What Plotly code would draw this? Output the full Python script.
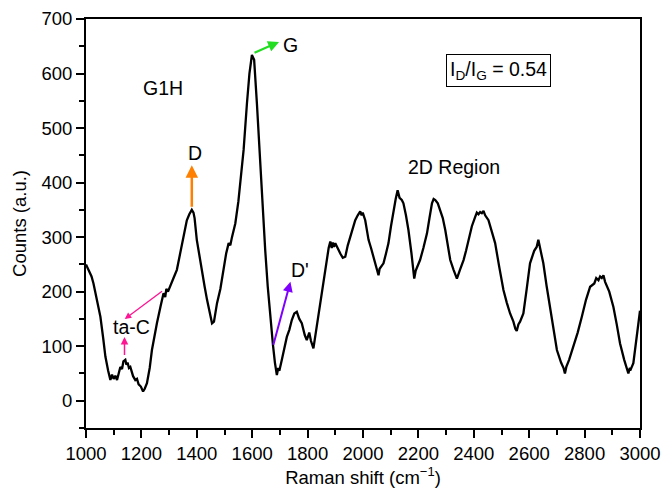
import plotly.graph_objects as go

raman_shift = [1000, 1010, 1020, 1027, 1040, 1052, 1062, 1070, 1080, 1088, 1094, 1100, 1106, 1112, 1118, 1124, 1130,
               1135, 1142, 1146, 1150, 1155, 1160, 1166, 1170, 1178, 1184, 1190, 1198, 1206, 1212, 1220, 1230, 1238,
               1247, 1256, 1270, 1280, 1286, 1290, 1296, 1304, 1310, 1316, 1328, 1337, 1346, 1355, 1364, 1373, 1382,
               1388, 1392, 1400, 1410, 1419, 1428, 1437, 1446, 1455, 1462, 1473, 1485, 1497, 1506, 1515, 1521, 1527,
               1539, 1550, 1557, 1563, 1569, 1581, 1590, 1599, 1603, 1607, 1617, 1629, 1638, 1647, 1656, 1665, 1675,
               1682, 1689, 1694, 1698, 1707, 1716, 1725, 1734, 1743, 1752, 1761, 1770, 1779, 1790, 1797, 1806, 1812,
               1821, 1828, 1834, 1843, 1852, 1861, 1870, 1876, 1882, 1887, 1891, 1895, 1900, 1909, 1918, 1927, 1936,
               1945, 1954, 1963, 1972, 1981, 1990, 1995, 1999, 2008, 2014, 2020, 2029, 2038, 2047, 2056, 2060, 2065,
               2074, 2083, 2092, 2101, 2110, 2118, 2125, 2132, 2140, 2146, 2155, 2164, 2175, 2185, 2190, 2195, 2206,
               2218, 2231, 2240, 2249, 2255, 2261, 2270, 2279, 2288, 2297, 2306, 2315, 2327, 2333, 2339, 2350, 2363,
               2372, 2381, 2393, 2405, 2411, 2417, 2423, 2429, 2435, 2441, 2453, 2465, 2477, 2492, 2507, 2519, 2531,
               2543, 2550, 2555, 2561, 2567, 2579, 2591, 2603, 2618, 2627, 2633, 2637, 2642, 2651, 2663, 2675, 2688,
               2700, 2715, 2724, 2729, 2734, 2744, 2759, 2775, 2790, 2805, 2820, 2828, 2835, 2842, 2850, 2856, 2862,
               2868, 2874, 2889, 2904, 2916, 2928, 2943, 2952, 2958, 2963, 2967, 2976, 2985, 2994, 3000]

counts = [250, 240, 228, 215, 185, 154, 115, 81, 55, 38, 48, 40, 46, 38, 50, 62, 58,
          72, 75, 66, 70, 60, 62, 50, 45, 38, 40, 30, 26, 17, 22, 32, 60, 93,
          120, 142, 175, 197, 190, 205, 200, 209, 216, 225, 240, 262, 282, 305, 331, 342, 350,
          345, 335, 295, 262, 234, 210, 185, 160, 142, 145, 179, 205, 246, 270, 289, 285, 300,
          325, 365, 399, 429, 460, 545, 600, 634, 630, 625, 545, 429, 350, 276, 210, 154, 102,
          70, 47, 60, 55, 75, 95, 117, 130, 148, 160, 163, 150, 142, 120, 111, 125, 110,
          96, 120, 136, 170, 203, 230, 258, 280, 292, 280, 290, 282, 289, 278, 270, 262, 264,
          285, 301, 315, 331, 340, 347, 340, 345, 331, 310, 295, 280, 264, 250, 230, 242, 245,
          252, 270, 289, 320, 350, 370, 386, 372, 368, 362, 340, 313, 270, 224, 238, 245, 258,
          280, 307, 335, 362, 370, 368, 362, 350, 335, 313, 285, 258, 240, 232, 224, 240, 258,
          275, 295, 320, 337, 345, 342, 346, 344, 348, 340, 331, 310, 289, 245, 203, 180, 160,
          145, 132, 128, 140, 145, 160, 205, 252, 275, 282, 295, 285, 270, 252, 210, 172, 130,
          93, 70, 60, 50, 62, 75, 99, 125, 154, 185, 209, 212, 215, 225, 221, 228, 225,
          230, 218, 200, 172, 140, 105, 75, 60, 50, 60, 58, 69, 105, 142, 165]

fig = go.Figure()
fig.add_trace(go.Scatter(x=raman_shift, y=counts, mode="lines",
                         line=dict(color="black", width=2.3), showlegend=False))

font = "Liberation Sans, Arial, Helvetica, sans-serif"
afs = 19.5

annotations = [
    dict(x=1279, y=573, text="G1H", showarrow=False, font=dict(size=afs)),
    dict(x=1394, y=455, text="D", showarrow=False, font=dict(size=afs)),
    dict(x=1740, y=653, text="G", showarrow=False, font=dict(size=afs)),
    dict(x=1773, y=240, text="D'", showarrow=False, font=dict(size=afs)),
    dict(x=1166, y=136, text="ta-C", showarrow=False, font=dict(size=afs)),
    dict(x=2327, y=429, text="2D Region", showarrow=False, font=dict(size=afs)),
    dict(x=2490, y=605, text="I<sub>D</sub>/I<sub>G</sub> = 0.54", showarrow=False,
         font=dict(size=afs), bordercolor="black", borderwidth=1, borderpad=3, bgcolor="white"),
    # arrows
    dict(x=1382, y=432, ax=1382, ay=353, xref="x", yref="y", axref="x", ayref="y", text="",
         showarrow=True, arrowhead=2, arrowsize=1, arrowwidth=2.5, arrowcolor="#FF8000"),
    dict(x=1697, y=658, ax=1603, ay=637, xref="x", yref="y", axref="x", ayref="y", text="",
         showarrow=True, arrowhead=2, arrowsize=1, arrowwidth=2.2, arrowcolor="#22DD22"),
    dict(x=1738, y=218, ax=1675, ay=100, xref="x", yref="y", axref="x", ayref="y", text="",
         showarrow=True, arrowhead=2, arrowsize=1, arrowwidth=2, arrowcolor="#8000FF"),
    dict(x=1139, y=117, ax=1139, ay=81, xref="x", yref="y", axref="x", ayref="y", text="",
         showarrow=True, arrowhead=2, arrowsize=1, arrowwidth=1.5, arrowcolor="#FF1493"),
    dict(x=1140, y=150, ax=1280, ay=203, xref="x", yref="y", axref="x", ayref="y", text="",
         showarrow=True, arrowhead=2, arrowsize=1, arrowwidth=1.3, arrowcolor="#FF1493"),
]

fig.update_layout(
    width=661, height=491,
    margin=dict(l=86, r=21, t=19, b=63, autoexpand=False),
    paper_bgcolor="white", plot_bgcolor="white",
    font=dict(family=font, size=18.5, color="black"),
    annotations=annotations,
)
fig.update_xaxes(range=[1000, 3000], tickmode="array", tickvals=list(range(1000, 3001, 200)),
                 ticks="outside", ticklen=8, tickwidth=1.5, tickcolor="black",
                 minor=dict(tickvals=list(range(1100, 3000, 200)), ticks="outside", ticklen=5,
                            tickwidth=1.5, tickcolor="black"),
                 showline=True, linewidth=2, linecolor="black", mirror=True, showgrid=False, zeroline=False,
                 automargin=False,
                 title=dict(text="Raman shift (cm<sup>−1</sup>)", font=dict(size=18.5), standoff=4),
                 tickfont=dict(size=18.5))
fig.update_yaxes(range=[-50, 700], tickmode="array", tickvals=list(range(0, 701, 100)),
                 ticks="outside", ticklen=8, tickwidth=1.5, tickcolor="black",
                 minor=dict(tickvals=list(range(-50, 700, 100)), ticks="outside", ticklen=5,
                            tickwidth=1.5, tickcolor="black"),
                 showline=True, linewidth=2, linecolor="black", mirror=True, showgrid=False, zeroline=False,
                 automargin=False,
                 title=dict(text="Counts (a.u.)", font=dict(size=18.5), standoff=10),
                 tickfont=dict(size=18.5))

fig.write_html("out.html", config={"displayModeBar": False},
               post_script="document.body.style.margin='0';document.body.style.overflow='hidden';")
